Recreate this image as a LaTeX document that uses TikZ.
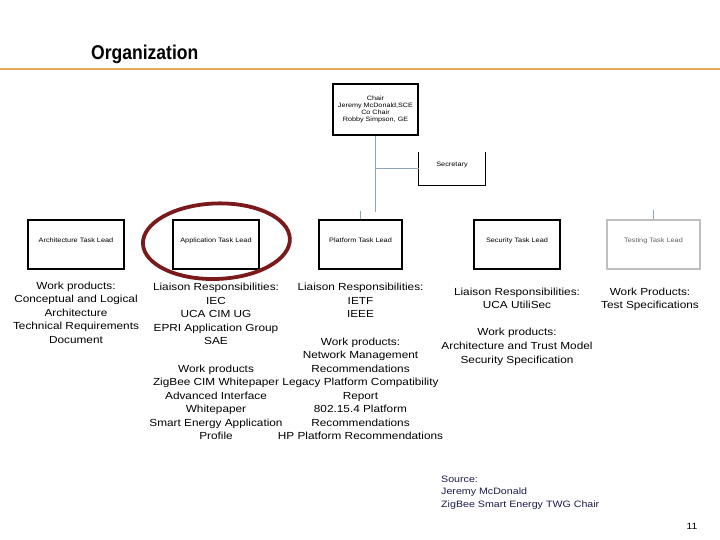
\documentclass[tikz,border=0pt]{standalone}
\usepackage{fontspec}
\setmainfont{Liberation Sans}[FakeStretch=1.15]
\newfontfamily\titlefont{Liberation Sans}[FakeStretch=0.88]
\usepackage{tikz}
\usetikzlibrary{positioning, shapes.geometric}
\definecolor{rulegold}{HTML}{E1AA5A}
\definecolor{linkblue}{HTML}{8FA5BC}
\definecolor{ringred}{HTML}{7A1A1C}
\definecolor{srcnavy}{HTML}{1C1C50}
\tikzset{
  lead/.style ={rectangle, draw, line width=1.3bp, inner xsep=0pt, inner ysep=0pt, text height=22.3bp, text depth=26.7bp, font=\fontsize{6.4}{7}\selectfont},
  head/.style ={rectangle, draw, line width=1.3bp, align=center, inner sep=0pt, minimum width=85bp, minimum height=51bp, font=\fontsize{6.3}{6.8}\selectfont},
  duty/.style ={align=center, inner sep=0pt, font=\fontsize{10.3}{13.6}\selectfont},
  link/.style ={draw=linkblue, line width=1bp},
  ring/.style ={ellipse, draw=ringred, line width=3.8bp, inner sep=0pt, minimum width=147bp, minimum height=75.5bp},
  src/.style  ={align=left, inner sep=0pt, text=srcnavy, font=\fontsize{9.3}{12.5}\selectfont},
}
\begin{document}
\begin{tikzpicture}[x=1bp, y=-1bp]
  \useasboundingbox (0,0) rectangle (720,540);
  % title and rule
  \node[anchor=base west, inner sep=0pt, font=\titlefont\bfseries\fontsize{20}{24}\selectfont] (title) at (91,59.3) {Organization};
  \draw[rulegold, line width=2bp] (0,69) -- (720,69);
  % chair and secretary
  \node[head] (chair) at (375.5,109.5) {Chair\\Jeremy McDonald,SCE\\Co Chair\\Robby Simpson, GE};
  \node[inner sep=0pt, minimum width=66bp, text height=14.2bp, text depth=18.8bp, font=\fontsize{6.4}{7}\selectfont] (secr) at (452,168.5) {Secretary};
  \draw[line width=0.9bp] (secr.north west) -- (secr.south west) -- (secr.south east) -- (secr.north east);
  % task leads
  \node[lead, minimum width=96bp] (arch) at (76,244.5) {Architecture Task Lead};
  \node[lead, minimum width=86bp] (app) at (216,244.5) {Application Task Lead};
  \node[lead, minimum width=83bp] (plat) at (360.5,244.5) {Platform Task Lead};
  \node[lead, minimum width=86bp] (sec) at (517,244.5) {Security Task Lead};
  \node[lead, minimum width=93bp, draw=gray!50, text=gray!75!black] (test) at (653.5,244.5) {Testing Task Lead};
  % connectors
  \coordinate (trunk) at (375.5,212);
  \coordinate (platstub) at (360.5,211);
  \coordinate (teststub) at (653.5,210);
  \draw[link] (chair) -- (trunk);
  \draw[link] (chair.south |- secr.west) -- (secr.west);
  \draw[link] (platstub) -- (plat);
  \draw[link] (teststub) -- (test);
  % highlight
  \node[ring, rotate=2] (hl) at (216.4,241.2) {};
  % responsibilities
  \node[duty, below=12bp of arch] (archtxt) {Work products:\\Conceptual and Logical\\Architecture\\Technical Requirements\\Document};
  \node[duty, below=13.5bp of app] (apptxt) {Liaison Responsibilities:\\IEC\\UCA CIM UG\\EPRI Application Group\\SAE\\[13.6bp]Work products\\ZigBee CIM Whitepaper\\Advanced Interface\\Whitepaper\\Smart Energy Application\\Profile};
  \node[duty, below=13.5bp of plat] (plattxt) {Liaison Responsibilities:\\IETF\\IEEE\\[13.6bp]Work products:\\Network Management\\Recommendations\\Legacy Platform Compatibility\\Report\\802.15.4 Platform\\Recommendations\\HP Platform Recommendations};
  \node[duty, below=18bp of sec] (sectxt) {Liaison Responsibilities:\\UCA UtiliSec\\[13.6bp]Work products:\\Architecture and Trust Model\\Security Specification};
  \node[duty, below=18bp of test, xshift=-3.5bp] (testtxt) {Work Products:\\Test Specifications};
  % footer
  \node[src, anchor=north west] (source) at (441,475.5) {Source:\\Jeremy McDonald\\ZigBee Smart Energy TWG Chair};
  \node[inner sep=0pt, font=\fontsize{9}{10}\selectfont] (pageno) at (692,526) {11};
\end{tikzpicture}
\end{document}
